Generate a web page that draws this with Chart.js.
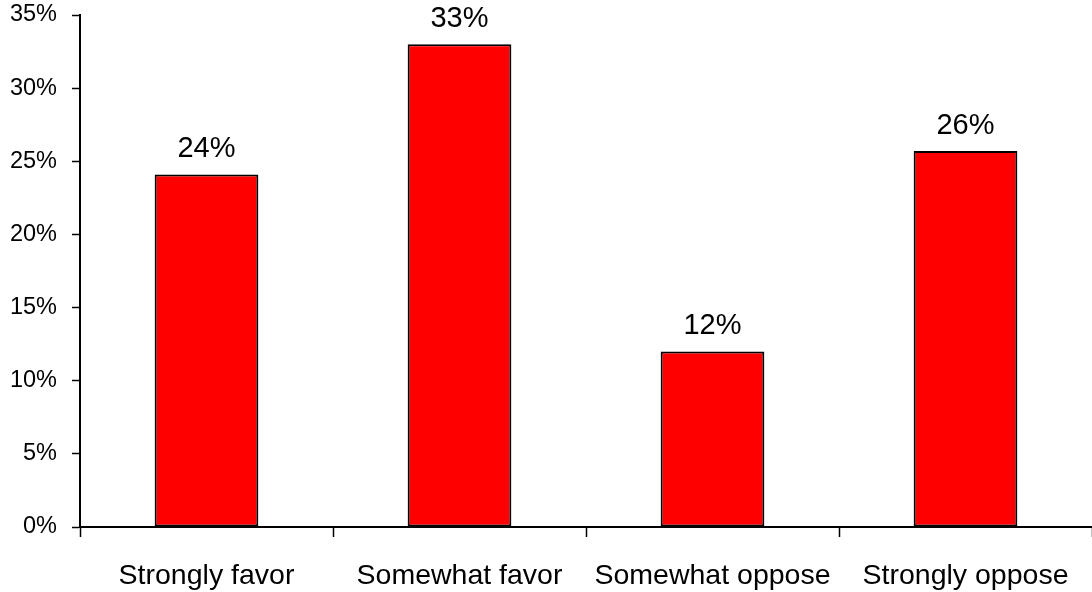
<!DOCTYPE html>
<html>
<head>
<meta charset="utf-8">
<title>Favor / oppose</title>
<script src="https://cdn.jsdelivr.net/npm/chart.js@4/dist/chart.umd.min.js"></script>
<style>
  html, body { margin: 0; padding: 0; background: #fff; }
  #wrap { width: 1092px; height: 592px; position: relative; }
</style>
</head>
<body>
<div id="wrap"><canvas id="chartOpinion"></canvas></div>
<script>
// --- DATA ---
const categories = ['Strongly favor', 'Somewhat favor', 'Somewhat oppose', 'Strongly oppose'];
const shares = [24.1, 33.0, 12.0, 25.7];          // bar heights in %
const shareLabels = ['24%', '33%', '12%', '26%'];  // printed above bars
const yMax = 35;
const yStep = 5;

const FONT = "'Liberation Sans', Arial, Helvetica, sans-serif";

// draws the value text above each bar
const barLabels = {
    id: 'barLabels',
    afterDatasetsDraw(chart) {
        const ctx = chart.ctx;
        const meta = chart.getDatasetMeta(0);
        ctx.save();
        ctx.font = '29px ' + FONT;
        ctx.fillStyle = '#000';
        ctx.textAlign = 'center';
        ctx.textBaseline = 'alphabetic';
        meta.data.forEach((bar, i) => {
            ctx.fillText(shareLabels[i], bar.x, bar.y - 17);
        });
        ctx.restore();
    }
};

const ctxOpinion = document.getElementById('chartOpinion').getContext('2d');
new Chart(ctxOpinion, {
    type: 'bar',
    data: {
        labels: categories,
        datasets: [{
            data: shares,
            backgroundColor: '#FF0000',
            borderColor: '#000',
            borderWidth: 2,
            borderSkipped: false,
            categoryPercentage: 1,
            barPercentage: 0.41
        }]
    },
    options: {
        responsive: true,
        maintainAspectRatio: false,
        animation: false,
        layout: { padding: { top: 15, right: 0, left: 0, bottom: 0 } },
        plugins: {
            legend: { display: false },
            tooltip: { enabled: false }
        },
        scales: {
            x: {
                afterFit(scale) {
                    scale.height = 65;
                    scale.paddingLeft = 0;
                    scale.paddingRight = 0;
                },
                grid: {
                    offset: true,
                    drawOnChartArea: false,
                    drawTicks: true,
                    tickLength: 10,
                    tickColor: '#000',
                    tickWidth: 1.5
                },
                border: { display: true, color: '#000', width: 2 },
                ticks: {
                    color: '#000',
                    font: { family: FONT, size: 28.5 },
                    padding: 22,
                    maxRotation: 0,
                    autoSkip: false
                }
            },
            y: {
                min: 0,
                max: yMax,
                afterFit(scale) {
                    scale.width = 80;
                    scale.paddingTop = 0;
                    scale.paddingBottom = 0;
                },
                grid: {
                    drawOnChartArea: false,
                    drawTicks: true,
                    tickLength: 8,
                    tickColor: '#000',
                    tickWidth: 1.5
                },
                border: { display: true, color: '#000', width: 2 },
                ticks: {
                    stepSize: yStep,
                    color: '#000',
                    font: { family: FONT, size: 23.5 },
                    padding: 15,
                    callback: function(value) { return value + '%'; }
                }
            }
        }
    },
    plugins: [barLabels]
});
</script>
</body>
</html>
